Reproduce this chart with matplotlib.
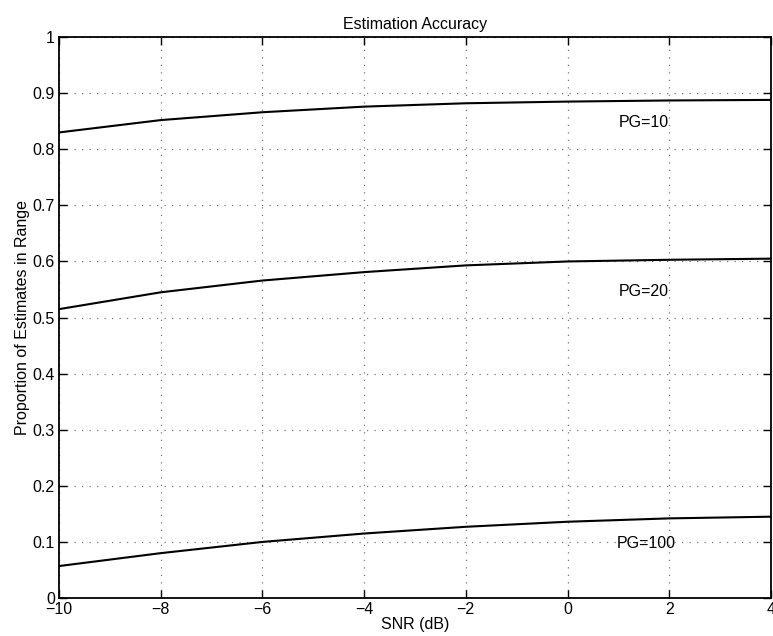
import numpy as np
import matplotlib.pyplot as plt

plt.rcParams['font.family'] = ['Liberation Sans', 'DejaVu Sans']

# SNR sample points (dB)
snr = [-10, -8, -6, -4, -2, 0, 2, 4]

# proportion of estimates in range
pg10 = [0.830, 0.852, 0.866, 0.876, 0.882, 0.885, 0.887, 0.888]
pg20 = [0.515, 0.545, 0.566, 0.581, 0.593, 0.600, 0.603, 0.605]
pg100 = [0.057, 0.080, 0.100, 0.115, 0.127, 0.136, 0.142, 0.145]

labels = ['PG=10', 'PG=20', 'PG=100']
label_x = [1.5, 1.5, 1.55]
label_y = [0.848, 0.547, 0.098]

fs = 11.5

fig = plt.figure(figsize=(7.73, 6.36), dpi=100)
ax = fig.add_axes([0.0763, 0.0597, 0.921, 0.882])

for series in (pg10, pg20, pg100):
    ax.plot(snr, series, color='black', lw=1.5)

for txt, x, y in zip(labels, label_x, label_y):
    ax.text(x, y, txt, fontsize=fs, ha='center', va='center')

ax.set_xlim(-10, 4)
ax.set_ylim(0, 1)
ax.set_xticks(np.arange(-10, 5, 2))
ax.set_yticks(np.arange(0, 1.01, 0.1))
ax.set_yticklabels(['0', '0.1', '0.2', '0.3', '0.4', '0.5', '0.6', '0.7', '0.8', '0.9', '1'])
ax.grid(True, linestyle=(0, (1, 5)), color='#777777', lw=0.9)
ax.tick_params(direction='in', top=True, right=True, length=6, labelsize=fs, width=1, pad=3)
for s in ax.spines.values():
    s.set_linewidth(1.3)

ax.set_title('Estimation Accuracy', fontsize=fs, pad=6)
ax.set_xlabel('SNR (dB)', fontsize=fs, labelpad=0)
ax.set_ylabel('Proportion of Estimates in Range', fontsize=fs, labelpad=2)

fig.savefig('out.png', dpi=100)
